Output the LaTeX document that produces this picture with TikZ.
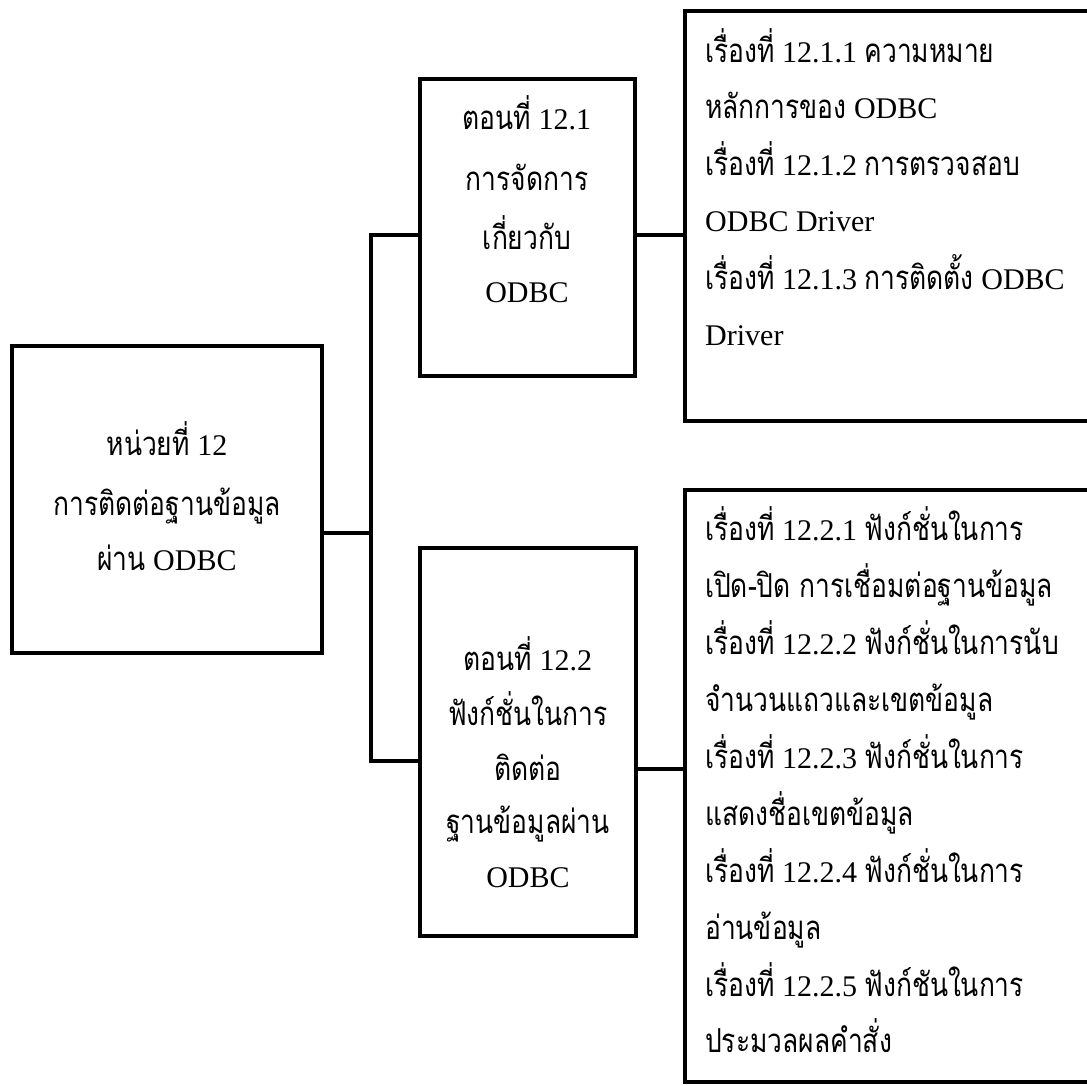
\documentclass[tikz,border=0pt]{standalone}
\usepackage{fontspec}
\setmainfont{Liberation Serif}
\newfontfamily\thaifont[Script=Thai,Scale=1.1,FakeStretch=0.8]{Loma}
\newcommand{\tht}[1]{{\thaifont #1}}

\begin{document}
\begin{tikzpicture}[x=1pt,y=-1pt,
  box/.style={draw, line width=4pt, inner sep=0pt, outer sep=0pt, anchor=north west},
  link/.style={line width=4pt},
  txt/.style={inner sep=0pt, anchor=base, font=\fontsize{30}{36}\selectfont},
  ltxt/.style={txt, anchor=base west}]
\useasboundingbox (0,0) rectangle (1087,1086);
\clip (0,0) rectangle (1087,1086);

% boxes (positions are the centre lines of the borders)
\node[box, minimum width=310pt, minimum height=307pt] (unit) at (12,346) {};
\node[box, minimum width=215pt, minimum height=297pt] (partA) at (420,79) {};
\node[box, minimum width=216pt, minimum height=388pt] (partB) at (420,548) {};
\node[box, minimum width=425pt, minimum height=410pt] (topicsA) at (685,11) {};
\node[box, minimum width=425pt, minimum height=592pt] (topicsB) at (685,490) {};

% tree connectors
\coordinate (jUnit) at (371,533);
\coordinate (jTop) at (371,235);
\coordinate (jBot) at (371,761);
\draw[link] (unit.east |- jUnit) -- (jUnit);
\draw[link] (partA.west |- jTop) -- (jTop) -- (jBot) -- (partB.west |- jBot);
\draw[link] (partA.east |- 0,235) -- (topicsA.west |- 0,235);
\draw[link] (partB.east |- 0,769) -- (topicsB.west |- 0,769);

% unit box
\node[txt] (u1) at (167,455) {\tht{หน่วยที่} 12};
\node[txt] (u2) at (167,515) {\tht{การติดต่อฐานข้อมูล}};
\node[txt] (u3) at (167,570) {\tht{ผ่าน} ODBC};

% part 12.1
\node[txt] (a1) at (527,130) {\tht{ตอนที่} 12.1};
\node[txt] (a2) at (527,191) {\tht{การจัดการ}};
\node[txt] (a3) at (527,250) {\tht{เกี่ยวกับ}};
\node[txt] (a4) at (527,302) {ODBC};

% part 12.2
\node[txt] (b1) at (528,670) {\tht{ตอนที่} 12.2};
\node[txt] (b2) at (528,725) {\tht{ฟังก์ชั่นในการ}};
\node[txt] (b3) at (528,780) {\tht{ติดต่อ}};
\node[txt] (b4) at (528,833) {\tht{ฐานข้อมูลผ่าน}};
\node[txt] (b5) at (528,887) {ODBC};

% topics of part 12.1
\node[ltxt] (ta1) at (705,63)  {\tht{เรื่องที่} 12.1.1 \tht{ความหมาย}};
\node[ltxt] (ta2) at (705,119) {\tht{หลักการของ} ODBC};
\node[ltxt] (ta3) at (705,176) {\tht{เรื่องที่} 12.1.2 \tht{การตรวจสอบ}};
\node[ltxt] (ta4) at (705,232) {ODBC Driver};
\node[ltxt] (ta5) at (705,289) {\tht{เรื่องที่} 12.1.3 \tht{การติดตั้ง} ODBC};
\node[ltxt] (ta6) at (705,345) {Driver};

% topics of part 12.2
\node[ltxt] (tb1)  at (705,540) {\tht{เรื่องที่} 12.2.1 \tht{ฟังก์ชั่นในการ}};
\node[ltxt] (tb2)  at (705,597) {\tht{เปิด-ปิด การเชื่อมต่อฐานข้อมูล}};
\node[ltxt] (tb3)  at (705,654) {\tht{เรื่องที่} 12.2.2 \tht{ฟังก์ชั่นในการนับ}};
\node[ltxt] (tb4)  at (705,711) {\tht{จำนวนแถวและเขตข้อมูล}};
\node[ltxt] (tb5)  at (705,768) {\tht{เรื่องที่} 12.2.3 \tht{ฟังก์ชั่นในการ}};
\node[ltxt] (tb6)  at (705,825) {\tht{แสดงชื่อเขตข้อมูล}};
\node[ltxt] (tb7)  at (705,882) {\tht{เรื่องที่} 12.2.4 \tht{ฟังก์ชั่นในการ}};
\node[ltxt] (tb8)  at (705,939) {\tht{อ่านข้อมูล}};
\node[ltxt] (tb9)  at (705,996) {\tht{เรื่องที่} 12.2.5 \tht{ฟังก์ชันในการ}};
\node[ltxt] (tb10) at (705,1052) {\tht{ประมวลผลคำสั่ง}};
\end{tikzpicture}
\end{document}
